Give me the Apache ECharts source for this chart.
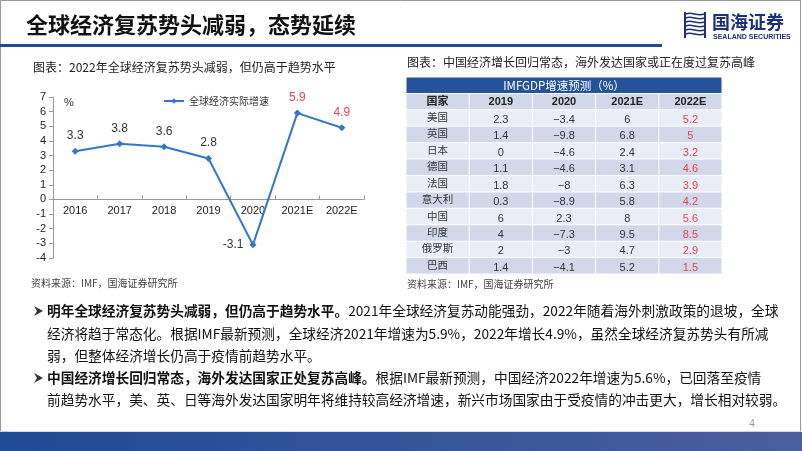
<!DOCTYPE html>
<html><head><meta charset="utf-8">
<script src="https://cdn.jsdelivr.net/npm/echarts@6/dist/echarts.min.js"></script>
<style>html,body{margin:0;padding:0;background:#fff}#c{width:802px;height:451px}</style>
</head><body><div id="c"></div>
<script>
// ---- data ----
const years = ['2016','2017','2018','2019','2020','2021E','2022E'];
const growth = [3.3, 3.8, 3.6, 2.8, -3.1, 5.9, 4.9];
const seriesName = '全球经济实际增速';
const tableTitle = 'IMFGDP增速预测（%）';
const tableCols = ['国家','2019','2020','2021E','2022E'];
const countries = ['美国','英国','日本','德国','法国','意大利','中国','印度','俄罗斯','巴西'];
const g2019 = [2.3, 1.4, 0, 1.1, 1.8, 0.3, 6, 4, 2, 1.4];
const g2020 = [-3.4, -9.8, -4.6, -4.6, -8, -8.9, 2.3, -7.3, -3, -4.1];
const g2021 = [6, 6.8, 2.4, 3.1, 6.3, 5.8, 8, 9.5, 4.7, 5.2];
const g2022 = [5.2, 5, 3.2, 4.6, 3.9, 4.2, 5.6, 8.5, 2.9, 1.5];
const yMin = -4, yMax = 7;

const CJK = '"Noto Sans CJK SC","Noto Sans",sans-serif';
const LAT = '"Liberation Sans",Arial,"Noto Sans CJK SC",sans-serif';
const RED = '#e8434f';
const NAVY = '#1d2f7a';

// ---- table cells ----
const fmt = v => String(v).replace('-', '−');
const cells = [];
cells.push({col:0,row:0,span:5,text:tableTitle,fill:'#24539b',color:'#fff',size:11.5,weight:'normal',dy:0,font:CJK});
tableCols.forEach((t,i)=>cells.push({col:i,row:1,span:1,text:t,fill:'#d0d8ea',color:'#222',size:11,weight:'bold',dy:0,font:LAT}));
const cols = [g2019,g2020,g2021,g2022];
countries.forEach((name,r)=>{
  const fill = r%2===0 ? '#e9edf5' : '#d0d8ea';
  cells.push({col:0,row:r+2,span:1,text:name,fill,color:'#333',size:10.5,weight:'normal',dy:-1,font:CJK});
  cols.forEach((arr,ci)=>cells.push({col:ci+1,row:r+2,span:1,text:fmt(arr[r]),fill,color:ci===3?RED:'#333',size:11,weight:'normal',dy:2,font:LAT}));
});
const rowLabels = ['t','h'].concat(countries);

// ---- text blocks ----
const bullets = [
  {y:311, rich:'{b|明年全球经济复苏势头减弱，但仍高于趋势水平。}{n|2021年全球经济复苏动能强劲，2022年随着海外刺激政策的退坡，全球}', mark:true},
  {y:334, rich:'{n|经济将趋于常态化。根据IMF最新预测，全球经济2021年增速为5.9%，2022年增长4.9%，虽然全球经济复苏势头有所减}'},
  {y:356, rich:'{n|弱，但整体经济增长仍高于疫情前趋势水平。}'},
  {y:378, rich:'{b|中国经济增长回归常态，海外发达国家正处复苏高峰。}{n|根据IMF最新预测，中国经济2022年增速为5.6%，已回落至疫情}', mark:true},
  {y:400, rich:'{n|前趋势水平，美、英、日等海外发达国家明年将维持较高经济增速，新兴市场国家由于受疫情的冲击更大，增长相对较弱。}'}
];

const graphics = [];
graphics.push({type:'rect',shape:{x:0.5,y:0.5,width:800,height:449},style:{fill:'none',stroke:'#999',lineWidth:1},silent:true});
graphics.push({type:'text',style:{text:'全球经济复苏势头减弱，态势延续',x:26,y:25,verticalAlign:'middle',font:'bold 22px '+CJK,fill:'#111'}});
graphics.push({type:'rect',shape:{x:0,y:44,width:662,height:3},style:{fill:'#1f4e96'}});
// logo icon
[14,18,22,26,30,34].forEach(yy=>{
  graphics.push({type:'bezierCurve',shape:{x1:686,y1:yy,cpx1:691,cpy1:yy-3,cpx2:698,cpy2:yy+3,x2:704,y2:yy},style:{stroke:NAVY,lineWidth:1.5,fill:'none'}});
});
graphics.push({type:'rect',shape:{x:684,y:12,width:2,height:26},style:{fill:NAVY}});
graphics.push({type:'rect',shape:{x:704,y:12,width:2,height:26},style:{fill:NAVY}});
graphics.push({type:'text',style:{text:'国海证券',x:712,y:22,verticalAlign:'middle',font:'bold 18px '+CJK,fill:NAVY}});
graphics.push({type:'text',style:{text:'SEALAND SECURITIES',x:713,y:37,verticalAlign:'middle',font:'bold 7px '+LAT,fill:NAVY}});
// captions
graphics.push({type:'text',style:{text:'图表：2022年全球经济复苏势头减弱，但仍高于趋势水平',x:33,y:67,verticalAlign:'middle',font:'12px '+CJK,fill:'#222'}});
graphics.push({type:'text',style:{text:'图表：中国经济增长回归常态，海外发达国家或正在度过复苏高峰',x:407,y:62,verticalAlign:'middle',font:'12px '+CJK,fill:'#222'}});
graphics.push({type:'text',style:{text:'资料来源：IMF，国海证券研究所',x:31,y:283,verticalAlign:'middle',font:'10px '+CJK,fill:'#444'}});
graphics.push({type:'text',style:{text:'资料来源：IMF，国海证券研究所',x:407,y:284,verticalAlign:'middle',font:'10px '+CJK,fill:'#444'}});
graphics.push({type:'text',style:{text:'%',x:64,y:103,verticalAlign:'middle',font:'11px '+LAT,fill:'#333'}});
bullets.forEach(b=>{
  if (b.mark) {
    graphics.push({type:'polygon',shape:{points:[[34,b.y-5],[43,b.y],[34,b.y+5],[37,b.y]]},style:{fill:'#333'}});
  }
  graphics.push({type:'text',style:{text:b.rich,x:47,y:b.y,verticalAlign:'middle',
    rich:{b:{font:'bold 13.7px '+CJK,fill:'#111'},n:{font:'13.7px '+CJK,fill:'#111'}}}});
});
graphics.push({type:'text',style:{text:'4',x:752,y:424,align:'center',verticalAlign:'middle',font:'10px '+LAT,fill:'#999'}});
graphics.push({type:'rect',shape:{x:0,y:431,width:802,height:1},style:{fill:'#c9d3e6'}});
graphics.push({type:'rect',shape:{x:0,y:432,width:802,height:19},style:{fill:new echarts.graphic.LinearGradient(0,0,1,0,[{offset:0,color:'#1f4a95'},{offset:1,color:'#4a5f9d'}])}});

const gridH = 161;
const chart = echarts.init(document.getElementById('c'), null, {renderer:'canvas'});
chart.setOption({
  animation:false,
  backgroundColor:'#fff',
  textStyle:{fontFamily:LAT},
  legend:{data:[seriesName],left:158,top:91,itemWidth:20,itemHeight:7,itemGap:4,
    textStyle:{fontSize:10,color:'#333',fontFamily:CJK}},
  grid:[
    {left:53,top:97,width:311,height:gridH},
    {left:406,top:77,width:316,height:197}
  ],
  xAxis:[
    {gridIndex:0,type:'category',data:years,boundaryGap:true,
     // move axis (line, ticks, labels) up to the zero line
     axisLine:{onZero:false,lineStyle:{color:'#999'}},
     offset:-gridH*(0-yMin)/(yMax-yMin),
     axisTick:{show:true,inside:true,length:4,lineStyle:{color:'#999'}},
     axisLabel:{color:'#222',fontSize:11,margin:6,fontFamily:LAT}},
    {gridIndex:1,type:'category',data:tableCols,show:false}
  ],
  yAxis:[
    {gridIndex:0,type:'value',min:yMin,max:yMax,interval:1,
     axisLine:{show:true,lineStyle:{color:'#999'}},
     axisTick:{show:true,length:4,lineStyle:{color:'#999'}},
     splitLine:{show:false},
     axisLabel:{color:'#222',fontSize:11,margin:7,fontFamily:LAT}},
    {gridIndex:1,type:'category',data:rowLabels,inverse:true,show:false}
  ],
  series:[
    {name:seriesName,type:'line',xAxisIndex:0,yAxisIndex:0,
     symbol:'diamond',symbolSize:7,
     lineStyle:{color:'#3378c8',width:2},itemStyle:{color:'#3378c8'},
     label:{show:true,position:'top',distance:6,fontSize:12,fontFamily:LAT,color:'#333'},
     labelLayout:{hideOverlap:false},
     data:growth.map((v,i)=>{
       const o={value:v};
       if (v<0) o.label={position:'left',distance:6};
       if (i>=5) o.label={color:RED};
       return o;
     })},
    {type:'custom',xAxisIndex:1,yAxisIndex:1,silent:true,
     data:cells.map(c=>[c.col,c.row]),
     renderItem:(params,api)=>{
       const c = cells[params.dataIndex];
       const p = api.coord([c.col,c.row]);
       const s = api.size([1,1]);
       const w = s[0]*c.span, h = s[1];
       const x = p[0]-s[0]/2, y = p[1]-h/2;
       return {type:'group',children:[
         {type:'rect',shape:{x:x+0.5,y:y+0.5,width:w-1,height:h-1},style:{fill:c.fill}},
         {type:'text',style:{text:c.text,x:x+w/2,y:y+h/2+c.dy,align:'center',verticalAlign:'middle',
           fill:c.color,font:c.weight+' '+c.size+'px '+c.font}}
       ]};
     }}
  ],
  graphic:graphics
});
</script></body></html>
